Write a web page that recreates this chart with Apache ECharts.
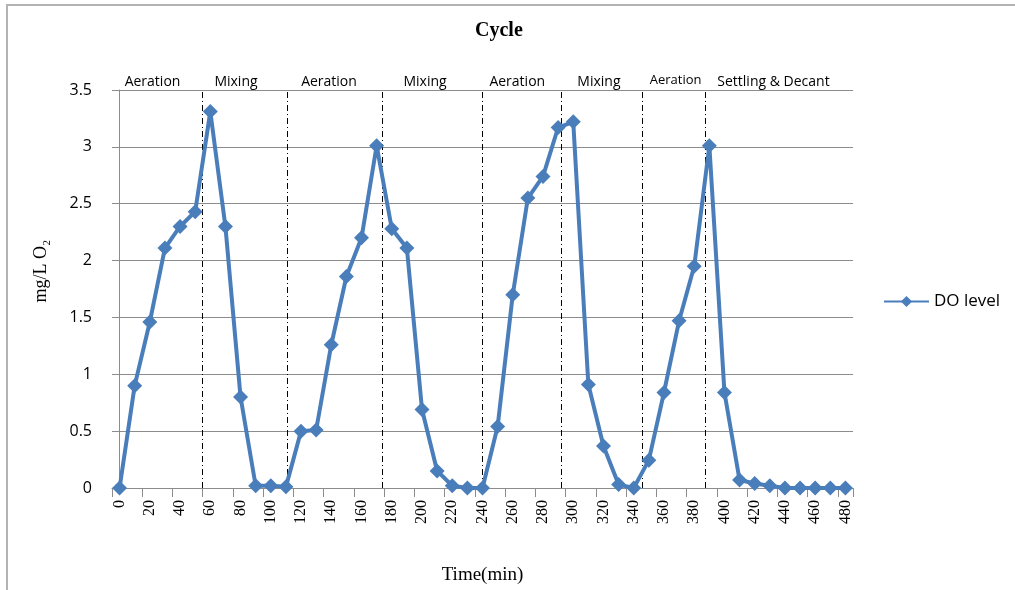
<!DOCTYPE html>
<html>
<head>
<meta charset="utf-8">
<script src="https://cdn.jsdelivr.net/npm/echarts@6/dist/echarts.min.js"></script>
<style>html,body{margin:0;padding:0;background:#fff;}#c{width:1015px;height:590px;}</style>
</head>
<body>
<div id="c"></div>
<script>
// Time categories (min), every 10 minutes
const times = [0,10,20,30,40,50,60,70,80,90,100,110,120,130,140,150,160,170,180,190,200,210,220,230,240,250,260,270,280,290,300,310,320,330,340,350,360,370,380,390,400,410,420,430,440,450,460,470,480];
// DO level (mg/L O2)
const doLevel = [0,0.90,1.46,2.11,2.30,2.43,3.31,2.30,0.80,0.02,0.02,0.01,0.50,0.51,1.26,1.86,2.20,3.01,2.28,2.11,0.69,0.15,0.02,0.00,0.00,0.54,1.70,2.55,2.74,3.17,3.22,0.91,0.37,0.03,0.00,0.245,0.84,1.47,1.95,3.01,0.84,0.07,0.04,0.02,0.00,0,0,0,0];
// Phase boundaries (min) and phase labels (centre, min)
const phaseBoundaries = [55, 111, 174, 240, 292, 345.5, 387];
const phaseNames = ['Aeration','Mixing','Aeration','Mixing','Aeration','Mixing','Aeration','Settling & Decant'];
const phaseCentres = [21.8, 77, 138.5, 202, 263, 317, 367.7, 432.4];

const chart = echarts.init(document.getElementById('c'), null, {renderer:'canvas'});
const sans = '"Open Sans", "Noto Sans", sans-serif';
const serif = '"Liberation Serif", "DejaVu Serif", serif';
const gridGray = '#8c8c8c';

chart.setOption({
  animation: false,
  backgroundColor: '#fff',
  title: {
    text: 'Cycle', left: 470, top: 16,
    textStyle: {fontFamily: serif, fontWeight: 'bold', fontSize: 20, color: '#000'}
  },
  legend: {
    data: ['DO level'], left: 878, top: 288, orient: 'vertical',
    itemWidth: 45, itemHeight: 14, itemGap: 4,
    textStyle: {fontFamily: sans, fontSize: 17, color: '#000'}
  },
  grid: {left: 112, top: 90, width: 741, height: 398, containLabel: false, outerBoundsMode: 'none'},
  xAxis: [{
    type: 'category', data: times.map(String), boundaryGap: true,
    name: 'Time(min)', nameLocation: 'middle', nameGap: 78,
    nameTextStyle: {fontFamily: serif, fontSize: 19, color: '#000'},
    axisLine: {lineStyle: {color: gridGray, width: 1}},
    axisTick: {show: true, interval: 1, length: 9, lineStyle: {color: gridGray}},
    axisLabel: {interval: 1, rotate: 90, margin: 12, fontFamily: serif, fontSize: 16, color: '#000'},
    splitLine: {show: false}
  }, {
    type: 'value', min: -5, max: 485, show: false
  }],
  yAxis: {
    type: 'value', min: 0, max: 3.5, interval: 0.5,
    name: 'mg/L O\u2082', nameLocation: 'middle', nameGap: 62, nameRotate: 90,
    nameTextStyle: {fontFamily: serif, fontSize: 18, color: '#000', padding: [0,0,0,36]},
    axisLine: {show: true, lineStyle: {color: gridGray, width: 1}},
    axisTick: {show: true, length: 6, lineStyle: {color: gridGray}},
    axisLabel: {margin: 20, fontFamily: sans, fontSize: 16, color: '#000'},
    splitLine: {show: true, lineStyle: {color: gridGray, width: 1}}
  },
  series: [{
    name: 'DO level', type: 'line', data: doLevel,
    symbol: 'diamond', symbolSize: 15, showSymbol: true, showAllSymbol: true,
    lineStyle: {color: '#4a7ebb', width: 4},
    itemStyle: {color: '#4a7ebb'},
    z: 5
  }, {
    name: 'phases', type: 'line', xAxisIndex: 1, data: [], silent: true,
    markLine: {
      silent: true, symbol: 'none', animation: false,
      label: {show: false},
      lineStyle: {color: '#000', width: 1, type: [6, 3, 1, 3]},
      data: phaseBoundaries.map(t => ({xAxis: t}))
    },
    z: 3
  }]
});

// Phase labels positioned through the hidden time axis
const labelGraphics = phaseNames.map((n, i) => {
  const x = chart.convertToPixel({xAxisIndex: 1}, phaseCentres[i]);
  const small = (i === 6);
  return {
    type: 'text', x: x, y: small ? 80 : 82,
    style: {text: n, fontFamily: sans, fontSize: small ? 13 : 14, fill: '#000',
            textAlign: 'center', textVerticalAlign: 'middle', align: 'center', verticalAlign: 'middle'},
    silent: true
  };
});
labelGraphics.push({
  type: 'rect', shape: {x: 7, y: 5, width: 1100, height: 700},
  style: {fill: 'none', stroke: '#b3b3b3', lineWidth: 2}, silent: true, z: -1
});
chart.setOption({graphic: labelGraphics});
</script>
</body>
</html>
